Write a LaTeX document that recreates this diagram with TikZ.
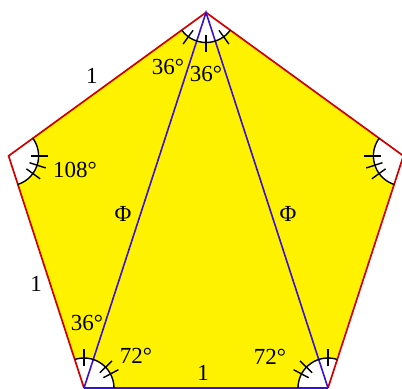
\documentclass[tikz,border=0pt]{standalone}
\usepackage{fontspec}
\setmainfont{Liberation Serif}
\definecolor{edgered}{HTML}{D00000}
\definecolor{diagblue}{HTML}{3A10D0}
\tikzset{
	side/.style={draw=edgered, line width=0.85pt, line join=miter},
	diag/.style={draw=diagblue, line width=0.8pt},
	angarc/.style={draw=black, line width=0.7pt},
	lbl/.style={font=\fontsize{11.5}{13}\selectfont, inner sep=0pt}
}
\begin{document}
\begin{tikzpicture}[x=0.5pt,y=0.5pt]
			\useasboundingbox (0,0) rectangle (402,388);
			\clip (0,0) rectangle (402,388);
			\coordinate (A) at (206,375.5);
			\coordinate (B) at (8.6,232.1);
			\coordinate (C) at (84,0);
			\coordinate (D) at (328,0);
			\coordinate (E) at (403.4,232.1);
			\fill[yellow] (A) -- (B) -- (C) -- (D) -- (E) -- cycle;
			\fill[white] (A) -- ++(216:30) arc[start angle=216, end angle=324, radius=30] -- cycle;
			\fill[white] (B) -- ++(-72:30) arc[start angle=-72, end angle=36, radius=30] -- cycle;
			\fill[white] (C) -- ++(0:30) arc[start angle=0, end angle=108, radius=30] -- cycle;
			\fill[white] (D) -- ++(72:30) arc[start angle=72, end angle=180, radius=30] -- cycle;
			\fill[white] (E) -- ++(144:30) arc[start angle=144, end angle=252, radius=30] -- cycle;
			\draw[side] (C) -- (B) -- (A) -- (E) -- (D);
			\draw[diag] (C) -- (D);
			\draw[diag] (C) -- (A) -- (D);
			\draw[angarc] (A) ++(216:30) arc[start angle=216, end angle=324, radius=30];
			\draw[angarc] (B) ++(-72:30) arc[start angle=-72, end angle=36, radius=30];
			\draw[angarc] (C) ++(0:30) arc[start angle=0, end angle=108, radius=30];
			\draw[angarc] (D) ++(72:30) arc[start angle=72, end angle=180, radius=30];
			\draw[angarc] (E) ++(144:30) arc[start angle=144, end angle=252, radius=30];
			\draw[angarc, shift={(A)}] (234:22) -- (234:39);
			\draw[angarc, shift={(A)}] (270:22) -- (270:39);
			\draw[angarc, shift={(A)}] (306:22) -- (306:39);
			\draw[angarc, shift={(B)}] (0:22) -- (0:39);
			\draw[angarc, shift={(B)}] (-18:22) -- (-18:39);
			\draw[angarc, shift={(B)}] (-36:22) -- (-36:39);
			\draw[angarc, shift={(E)}] (180:22) -- (180:39);
			\draw[angarc, shift={(E)}] (198:22) -- (198:39);
			\draw[angarc, shift={(E)}] (216:22) -- (216:39);
			\draw[angarc, shift={(C)}] (90:22) -- (90:39);
			\draw[angarc, shift={(C)}] (28:22) -- (28:39);
			\draw[angarc, shift={(C)}] (44:22) -- (44:39);
			\draw[angarc, shift={(D)}] (90:22) -- (90:39);
			\draw[angarc, shift={(D)}] (136:22) -- (136:39);
			\draw[angarc, shift={(D)}] (152:22) -- (152:39);
			\node[lbl] (topl) at (168,321) {36°};
			\node[lbl] (topm) at (206,314) {36°};
			\node[lbl] (left) at (75,218) {108°};
			\node[lbl] (phil) at (123,174) {Φ};
			\node[lbl] (phir) at (288,174) {Φ};
			\node[lbl] (oneu) at (92,312) {1};
			\node[lbl] (onel) at (36,104) {1};
			\node[lbl] (oneb) at (203,15) {1};
			\node[lbl] (botl) at (87,65) {36°};
			\node[lbl] (angl) at (136,32) {72°};
			\node[lbl] (angr) at (270,31) {72°};
		\end{tikzpicture}
\end{document}
